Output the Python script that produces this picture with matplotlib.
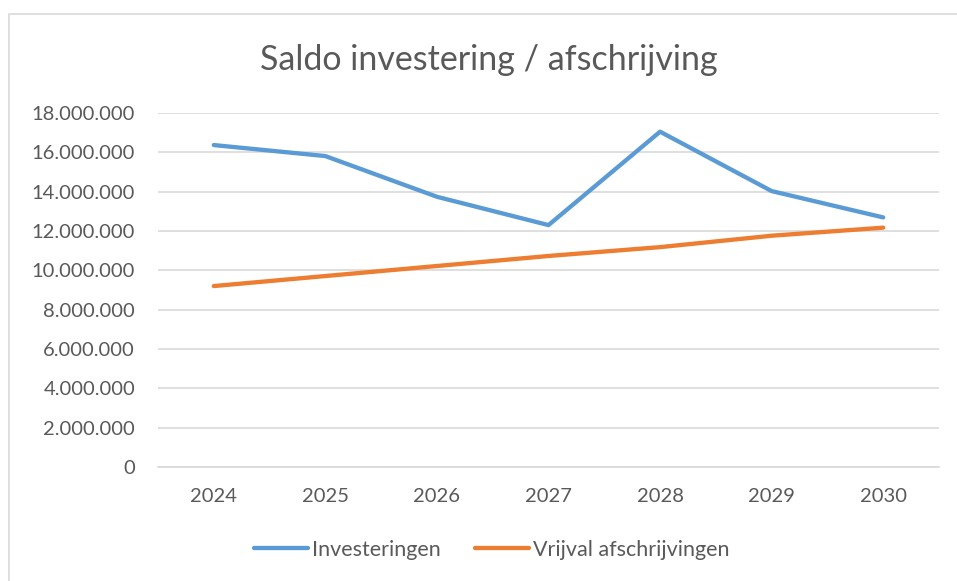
import matplotlib
matplotlib.use("Agg")
import matplotlib.pyplot as plt
from matplotlib.ticker import FuncFormatter, MultipleLocator
from matplotlib.patches import Rectangle

years = ["2024", "2025", "2026", "2027", "2028", "2029", "2030"]
investeringen = [16370000, 15810000, 13740000, 12300000, 17050000, 14030000, 12690000]
vrijval = [9200000, 9710000, 10220000, 10730000, 11180000, 11760000, 12170000]

plt.rcParams['font.family'] = ['Lato', 'DejaVu Sans']
txt = '#595959'
grid = '#D9D9D9'

fig = plt.figure(figsize=(9.57, 5.81), dpi=100)
# chart border
fig.patches.append(Rectangle((8.5/957, -0.1), 1.2, (581-14)/581 + 0.1, transform=fig.transFigure,
                             fill=False, edgecolor='#D9D9D9', linewidth=1.2))

ax = fig.add_axes([158/957, 1-467/581, (939-158)/957, (467-113)/581])
x = range(len(years))
ax.plot(x, investeringen, color='#5B9BD5', lw=3.1, solid_capstyle='round', solid_joinstyle='round', label='Investeringen')
ax.plot(x, vrijval, color='#ED7D31', lw=3.1, solid_capstyle='round', solid_joinstyle='round', label='Vrijval afschrijvingen')

ax.set_xlim(-0.5, len(years) - 0.5)
ax.set_ylim(0, 18000000)
ax.yaxis.set_major_locator(MultipleLocator(2000000))
ax.yaxis.set_major_formatter(FuncFormatter(lambda v, p: f"{int(v):,}".replace(",", ".")))
ax.set_xticks(list(x))
ax.set_xticklabels(years)
ax.grid(axis='y', color=grid, lw=1.2)
ax.set_axisbelow(True)
for s in ['top', 'right', 'left']:
    ax.spines[s].set_visible(False)
ax.spines['bottom'].set_color(grid)
ax.spines['bottom'].set_linewidth(1.2)
ax.tick_params(axis='both', length=0, labelsize=14.5, colors=txt)
ax.tick_params(axis='y', pad=16.5)
ax.tick_params(axis='x', pad=15)

fig.text(489/957, 1-60/581, "Saldo investering / afschrijving", ha='center', va='center',
         fontsize=24.5, color=txt)

leg = fig.legend(loc='center', bbox_to_anchor=(492/957, 1-550/581), ncol=2, frameon=False,
                 fontsize=15.5, handlelength=2.5, handletextpad=0.2, columnspacing=1.6)
for t in leg.get_texts():
    t.set_color(txt)

fig.savefig("out.png", dpi=100)
